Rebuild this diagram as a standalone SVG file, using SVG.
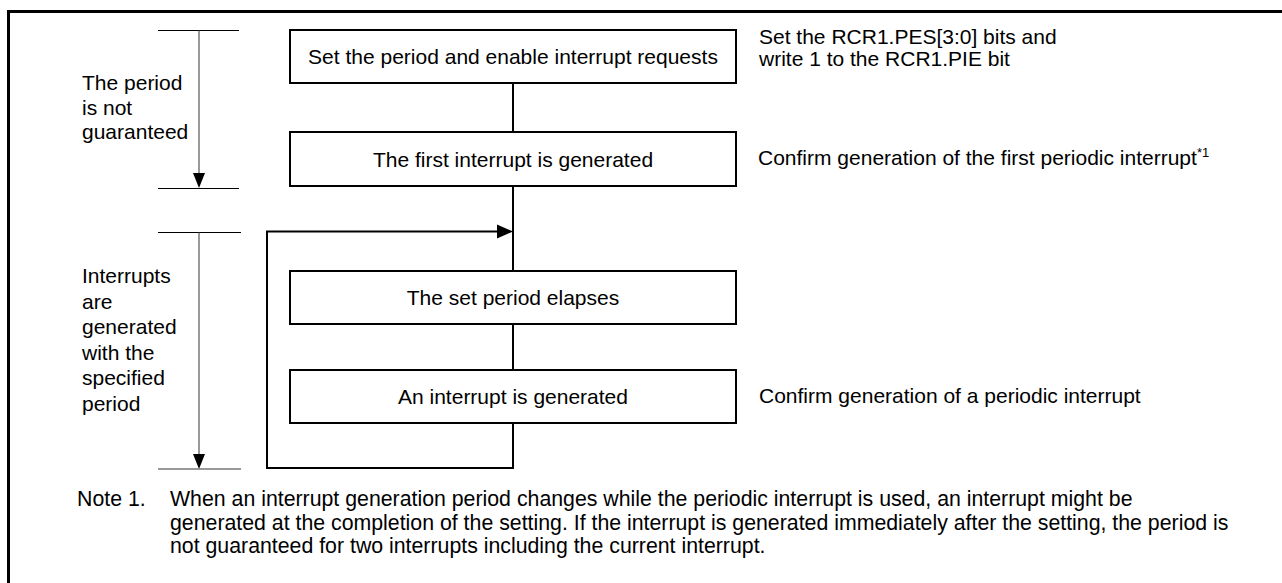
<svg xmlns="http://www.w3.org/2000/svg" width="1282" height="583" viewBox="0 0 1282 583">
<style>
text{font-family:"Liberation Sans",Arial,sans-serif;font-size:21px;fill:#000}
.c{text-anchor:middle}
.box{fill:#fff;stroke:#000;stroke-width:2}
.ln{fill:none;stroke:#000;stroke-width:2}
.br{fill:none;stroke:#000;stroke-width:1}
.ax{fill:none;stroke:#555;stroke-width:1.2}
.nt{font-size:21.3px}
</style>
<rect width="1282" height="583" fill="#fff"/>
<path d="M8.5 583 V11.5 H1282" fill="none" stroke="#000" stroke-width="3"/>
<g id="brackets">
<line class="br" x1="158" y1="30.5" x2="239" y2="30.5"/>
<line class="ax" x1="199" y1="30.5" x2="199" y2="176"/>
<polygon points="193,173 205,173 199,188" fill="#000"/>
<line class="br" x1="158" y1="188.5" x2="239" y2="188.5"/>
<line class="br" x1="158" y1="232.5" x2="241" y2="232.5"/>
<line class="ax" x1="199" y1="232.5" x2="199" y2="456"/>
<polygon points="193,454 205,454 199,469" fill="#000"/>
<line x1="158" y1="469" x2="241" y2="469" stroke="#777" stroke-width="1.6"/>
</g>
<g id="labels-left">
<text x="82" y="90">The period</text>
<text x="82" y="114.5">is not</text>
<text x="82" y="139">guaranteed</text>
<text x="82" y="283">Interrupts</text>
<text x="82" y="308.5">are</text>
<text x="82" y="334">generated</text>
<text x="82" y="359.5">with the</text>
<text x="82" y="385">specified</text>
<text x="82" y="410.5">period</text>
</g>
<g id="connectors">
<line class="ln" x1="513" y1="83" x2="513" y2="132"/>
<line class="ln" x1="513" y1="186" x2="513" y2="271"/>
<line class="ln" x1="513" y1="324" x2="513" y2="370"/>
<path class="ln" d="M513 423 V468 H267 V231.5 H500"/>
<polygon points="497,224.5 513,231.5 497,238.5" fill="#000"/>
</g>
<g id="n1">
<rect class="box" x="290" y="30" width="446" height="53"/>
<text class="c" x="513" y="64">Set the period and enable interrupt requests</text>
</g>
<g id="n2">
<rect class="box" x="290" y="132" width="446" height="54"/>
<text class="c" x="513" y="166.5">The first interrupt is generated</text>
</g>
<g id="n3">
<rect class="box" x="290" y="271" width="446" height="53"/>
<text class="c" x="513" y="305">The set period elapses</text>
</g>
<g id="n4">
<rect class="box" x="290" y="370" width="446" height="53"/>
<text class="c" x="513" y="404">An interrupt is generated</text>
</g>
<g id="labels-right">
<text x="759" y="44">Set the RCR1.PES[3:0] bits and</text>
<text x="759" y="65.5">write 1 to the RCR1.PIE bit</text>
<text x="758" y="165">Confirm generation of the first periodic interrupt<tspan font-size="13" dy="-8">*1</tspan></text>
<text x="759" y="403">Confirm generation of a periodic interrupt</text>
</g>
<g id="note">
<text class="nt" x="77" y="506">Note 1.</text>
<text class="nt" x="170" y="506">When an interrupt generation period changes while the periodic interrupt is used, an interrupt might be</text>
<text class="nt" x="170" y="529.5">generated at the completion of the setting. If the interrupt is generated immediately after the setting, the period is</text>
<text class="nt" x="170" y="553">not guaranteed for two interrupts including the current interrupt.</text>
</g>
</svg>
